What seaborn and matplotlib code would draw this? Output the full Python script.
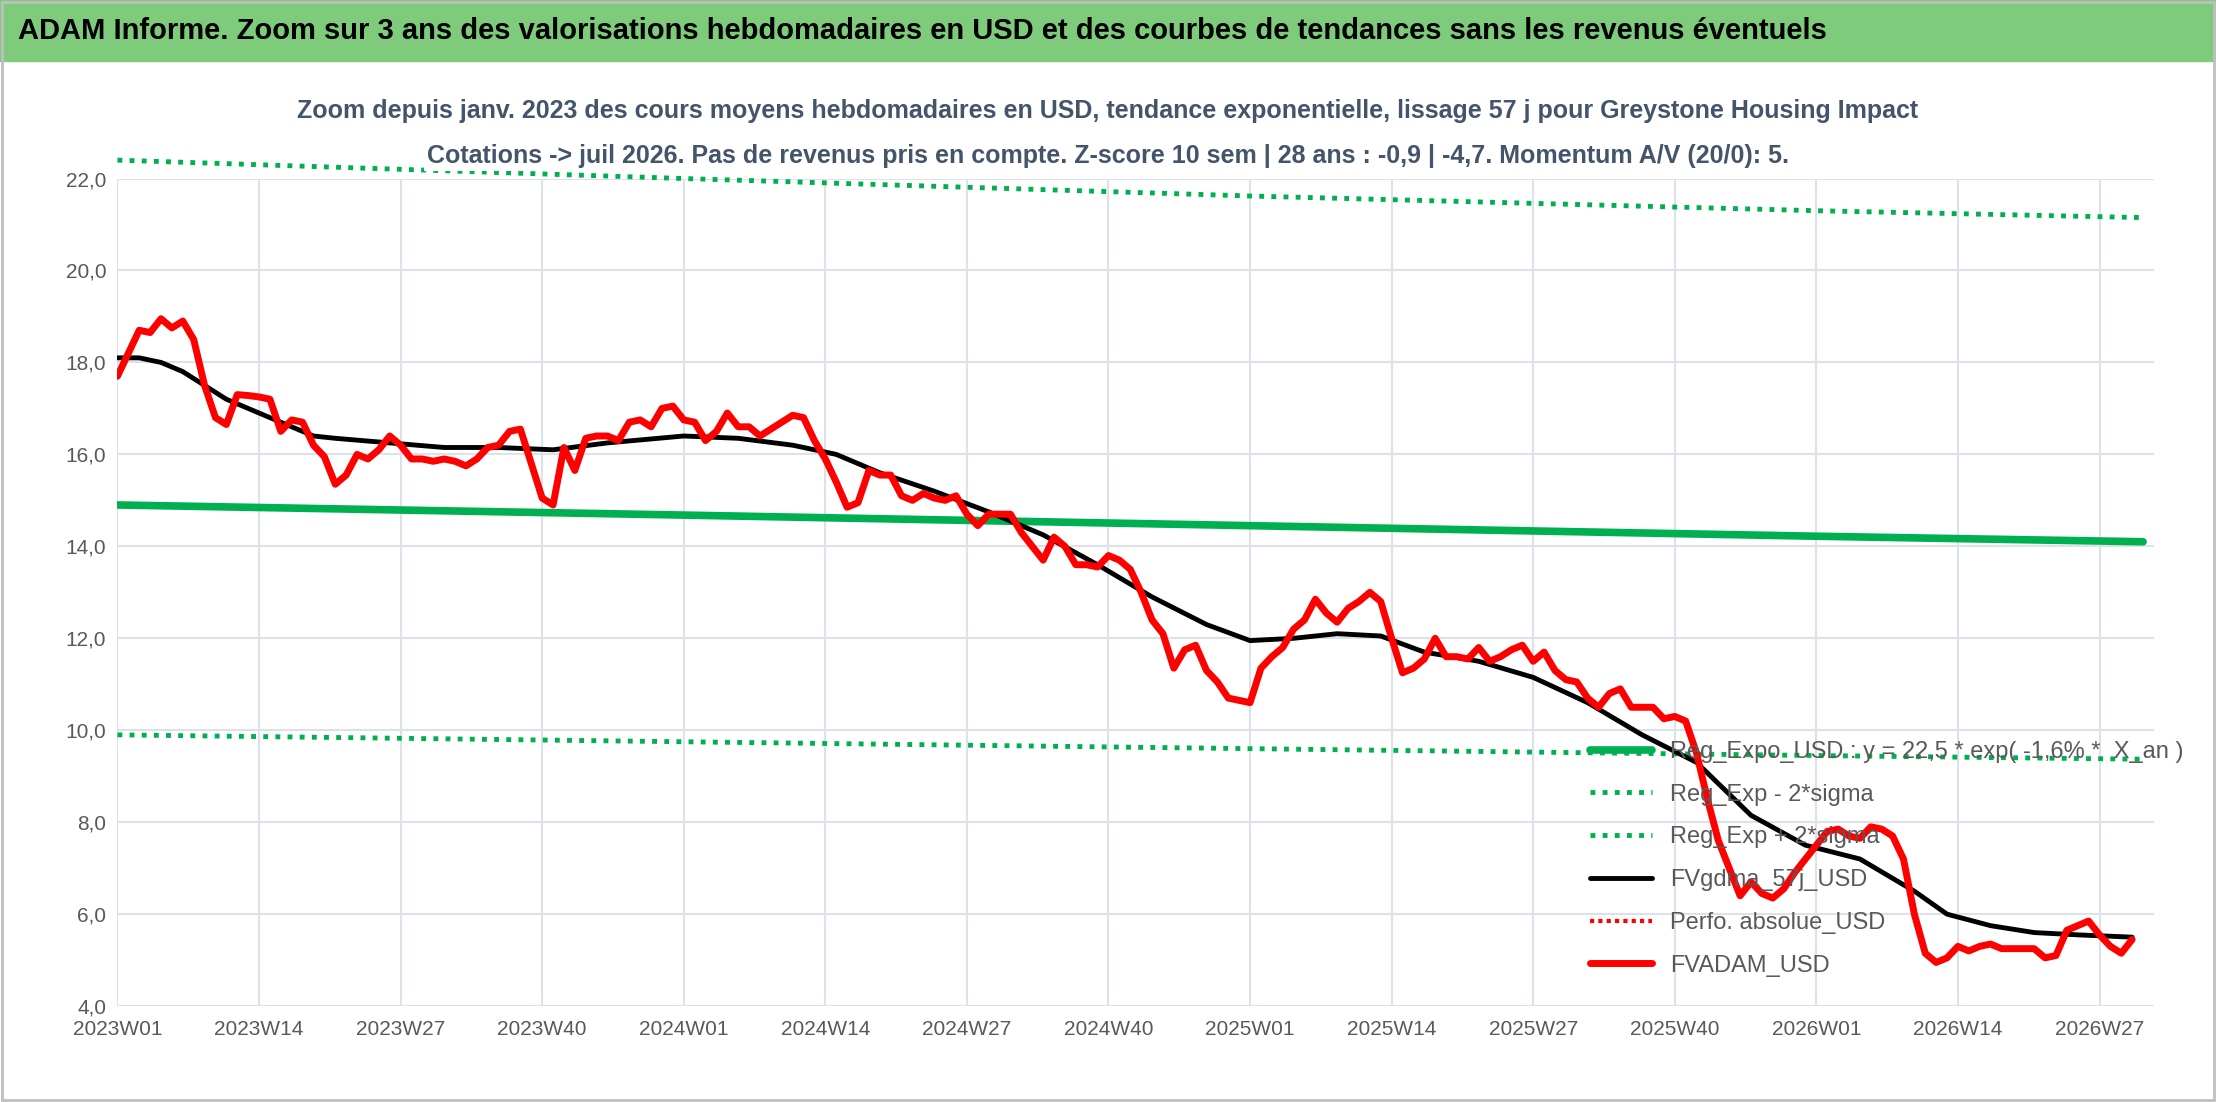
import numpy as np
import pandas as pd
import matplotlib
matplotlib.use("Agg")
import matplotlib.pyplot as plt
import seaborn as sns

# weekly labels 2023W01 .. 2026W32 (ISO: 2023, 2024, 2025 have 52 weeks)
week_labels = ([f"2023W{w:02d}" for w in range(1, 53)] + [f"2024W{w:02d}" for w in range(1, 53)]
               + [f"2025W{w:02d}" for w in range(1, 53)] + [f"2026W{w:02d}" for w in range(1, 33)])

fvadam = [17.7, 18.2, 18.7, 18.65, 18.95, 18.75, 18.9, 18.5, 17.5, 16.8, 16.65, 17.3, 17.28, 17.25, 17.2,
          16.5, 16.75, 16.7, 16.2, 15.95, 15.35, 15.55, 16.0, 15.9, 16.1, 16.4, 16.2, 15.9, 15.9, 15.85,
          15.9, 15.85, 15.75, 15.9, 16.15, 16.2, 16.5, 16.55, 15.8, 15.05, 14.9, 16.15, 15.65, 16.35, 16.4,
          16.4, 16.3, 16.7, 16.75, 16.6, 17.0, 17.05, 16.75, 16.7, 16.3, 16.5, 16.9, 16.6, 16.6, 16.4,
          16.55, 16.7, 16.85, 16.8, 16.3, 15.9, 15.4, 14.85, 14.95, 15.65, 15.55, 15.55, 15.1, 15.0, 15.15,
          15.05, 15.0, 15.1, 14.7, 14.45, 14.7, 14.7, 14.7, 14.3, 14.0, 13.7, 14.2, 14.0, 13.6, 13.6,
          13.55, 13.8, 13.7, 13.5, 13.0, 12.4, 12.1, 11.35, 11.75, 11.85, 11.3, 11.05, 10.7, 10.65, 10.6,
          11.35, 11.6, 11.8, 12.2, 12.4, 12.85, 12.55, 12.35, 12.65, 12.8, 13.0, 12.8, 12.0, 11.25, 11.35,
          11.55, 12.0, 11.6, 11.6, 11.55, 11.8, 11.5, 11.6, 11.75, 11.85, 11.5, 11.7, 11.3, 11.1, 11.05,
          10.7, 10.5, 10.8, 10.9, 10.5, 10.5, 10.5, 10.25, 10.3, 10.2, 9.5, 8.5, 7.6, 7.0, 6.4,
          6.7, 6.45, 6.35, 6.55, 6.9, 7.2, 7.5, 7.8, 7.85, 7.7, 7.65, 7.9, 7.85, 7.7, 7.2,
          6.0, 5.15, 4.95, 5.05, 5.3, 5.2, 5.3, 5.35, 5.25, 5.25, 5.25, 5.25, 5.05, 5.1, 5.65,
          5.75, 5.85, 5.55, 5.3, 5.15, 5.45]

gdma_weeks = [0, 2, 4, 6, 8, 10, 12, 14, 16, 18, 20, 25, 30, 35, 40, 45, 52, 57, 62, 66, 70, 75, 80,
              85, 90, 95, 100, 104, 108, 112, 116, 120, 125, 130, 135, 140, 145, 150, 155, 160, 165,
              168, 172, 176, 180, 185]
gdma = [18.1, 18.1, 18.0, 17.8, 17.5, 17.2, 17.0, 16.8, 16.6, 16.4, 16.35, 16.25, 16.15, 16.15, 16.1,
        16.25, 16.4, 16.35, 16.2, 16.0, 15.6, 15.2, 14.75, 14.25, 13.6, 12.9, 12.3, 11.95, 12.0, 12.1,
        12.05, 11.7, 11.5, 11.15, 10.6, 9.9, 9.3, 8.15, 7.5, 7.2, 6.5, 6.0, 5.75, 5.6, 5.55, 5.5]

reg_weeks = [0, 52, 104, 156, 186]
reg_expo = [14.9, 14.68, 14.45, 14.22, 14.1]
reg_minus = [9.9, 9.75, 9.6, 9.45, 9.37]
reg_plus = [22.4, 22.0, 21.62, 21.3, 21.15]

sns.set_theme(style="white")
plt.rcParams['font.family'] = ['Liberation Sans', 'DejaVu Sans']

fig = plt.figure(figsize=(22.16, 11.02), dpi=100)
ax = fig.add_axes([0.053, 0.087, 0.919, 0.751])

green = "#00B050"
sns.lineplot(x=reg_weeks, y=reg_expo, ax=ax, color=green, lw=5.5,
             label="Reg_Expo_USD : y = 22,5 * exp( -1,6% *  X_an )")
sns.lineplot(x=reg_weeks, y=reg_minus, ax=ax, color=green, lw=3.5, ls=(0, (1, 1.5)), label="Reg_Exp - 2*sigma")
sns.lineplot(x=reg_weeks, y=reg_plus, ax=ax, color=green, lw=3.5, ls=(0, (1, 1.5)), label="Reg_Exp + 2*sigma")
ax.lines[-1].set_clip_on(False)
sns.lineplot(x=gdma_weeks, y=gdma, ax=ax, color="black", lw=3.5, label="FVgdma_57j_USD")
ax.plot([], [], color="red", lw=3, ls=(0, (1, 1)), label="Perfo. absolue_USD")
sns.lineplot(x=np.arange(len(fvadam)), y=fvadam, ax=ax, color="#FF0000", lw=5, label="FVADAM_USD")

ax.set_xlim(0, 187)
ax.set_ylim(4, 22)
ax.set_yticks(np.arange(4, 23, 2))
ax.set_yticklabels([f"{v:.1f}".replace(".", ",") for v in np.arange(4, 23, 2)])
xt = list(range(0, 187, 13))
ax.set_xticks(xt)
ax.set_xticklabels([week_labels[i] for i in xt])
ax.tick_params(labelsize=15, colors="#595959", length=0)
ax.tick_params(axis="x", pad=10)
ax.tick_params(axis="y", pad=8)
ax.grid(True, color="#DDE2EA", lw=1.5)
for s in ax.spines.values():
    s.set_visible(False)
ax.set_xlabel("")
ax.set_ylabel("")

leg = ax.legend(loc="upper left", bbox_to_anchor=(0.708, 0.347), bbox_transform=fig.transFigure,
                frameon=False, fontsize=17, handlelength=2.6, labelspacing=0.88)
for t in leg.get_texts():
    t.set_color("#595959")

# header band
fig.patches.append(matplotlib.patches.Rectangle((0, 0.945), 1, 0.055, transform=fig.transFigure,
                                                color="#7DCB7B", zorder=0))
fig.text(0.008, 0.972, "ADAM Informe. Zoom sur 3 ans des valorisations hebdomadaires en USD et des courbes de tendances sans les revenus éventuels",
         fontsize=21, fontweight="bold", color="black", va="center")
fig.text(0.5, 0.899, "Zoom depuis janv. 2023 des cours moyens hebdomadaires en USD, tendance exponentielle, lissage 57 j pour Greystone Housing Impact",
         fontsize=18, fontweight="bold", color="#44546A", ha="center", va="center")
fig.text(0.5, 0.858, "Cotations -> juil 2026. Pas de revenus pris en compte. Z-score 10 sem | 28 ans : -0,9 | -4,7. Momentum A/V (20/0): 5.",
         fontsize=18, fontweight="bold", color="#44546A", ha="center", va="center",
         bbox=dict(facecolor="white", edgecolor="none", pad=2))
fig.patches.append(matplotlib.patches.Rectangle((0.001, 0.002), 0.998, 0.996, transform=fig.transFigure,
                                                fill=False, edgecolor="#BFBFBF", lw=2))

fig.savefig("out.png", dpi=100)
